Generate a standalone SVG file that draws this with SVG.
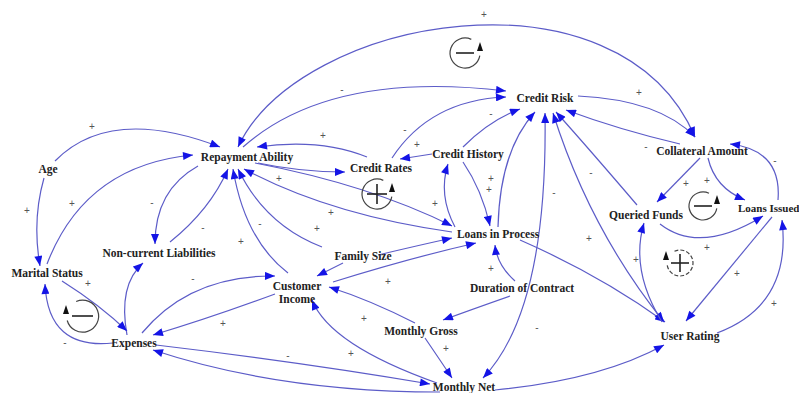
<svg xmlns="http://www.w3.org/2000/svg" width="799" height="393" viewBox="0 0 799 393">
<style>
.n{font-family:"Liberation Serif","Times New Roman",serif;font-weight:bold;font-size:11.5px;fill:#222;text-anchor:middle}
.e{fill:none;stroke:#5c5cc8;stroke-width:1.2}
.p{font-family:"Liberation Sans",Arial,sans-serif;font-size:10px;fill:#555;text-anchor:middle}
.lp{fill:none;stroke:#444;stroke-width:1.2}
.sym{stroke:#222;stroke-width:1.6}
</style>
<defs>
<marker id="a" viewBox="0 0 10 8" refX="10" refY="4" markerWidth="11" markerHeight="8" markerUnits="userSpaceOnUse" orient="auto-start-reverse"><path d="M0,0 L10,4 L0,8 z" fill="#1414e6"/></marker>
</defs>
<rect width="799" height="393" fill="#fff"/>
<g id="connectors">
<path class="e" marker-end="url(#a)" d="M55,161 Q110,105 220,147"/>
<path class="e" marker-end="url(#a)" d="M47,264 Q85,165 193,155"/>
<path class="e" marker-end="url(#a)" d="M44,178 Q32,220 40,266"/>
<path class="e" marker-end="url(#a)" d="M198,166 Q155,190 155,244"/>
<path class="e" marker-end="url(#a)" d="M170,242 Q210,210 228,169"/>
<path class="e" marker-end="url(#a)" d="M288,273 Q245,240 233,169"/>
<path class="e" marker-end="url(#a)" d="M322,247 Q265,225 238,169"/>
<path class="e" marker-end="url(#a)" d="M452,232 Q330,215 244,169"/>
<path class="e" marker-end="url(#a)" d="M255,163 Q370,185 452,226"/>
<path class="e" marker-end="url(#a)" d="M378,255 Q420,245 452,238"/>
<path class="e" marker-end="url(#a)" d="M333,282 Q410,258 476,243"/>
<path class="e" marker-end="url(#a)" d="M258,163 Q300,172 345,172"/>
<path class="e" marker-end="url(#a)" d="M367,157 Q320,138 257,147"/>
<path class="e" marker-end="url(#a)" d="M243,147 Q330,70 506,91"/>
<path class="e" marker-start="url(#a)" marker-end="url(#a)" d="M238,147 C300,15 620,-40 695,137"/>
<path class="e" marker-end="url(#a)" d="M392,158 Q430,100 506,97"/>
<path class="e" marker-end="url(#a)" d="M432,154 L400,159"/>
<path class="e" marker-end="url(#a)" d="M463,147 Q490,120 520,109"/>
<path class="e" marker-end="url(#a)" d="M463,162 Q482,190 490,226"/>
<path class="e" marker-end="url(#a)" d="M455,227 Q438,195 448,164"/>
<path class="e" marker-end="url(#a)" d="M498,227 Q500,150 535,112"/>
<path class="e" marker-end="url(#a)" d="M515,281 Q497,265 495,245"/>
<path class="e" marker-end="url(#a)" d="M510,296 Q470,310 443,320"/>
<path class="e" marker-end="url(#a)" d="M425,338 Q440,360 452,378"/>
<path class="e" marker-start="url(#a)" marker-end="url(#a)" d="M545,113 Q548,310 483,378"/>
<path class="e" marker-end="url(#a)" d="M495,390 Q600,380 664,345"/>
<path class="e" marker-end="url(#a)" d="M520,240 Q600,275 665,322"/>
<path class="e" marker-start="url(#a)" marker-end="url(#a)" d="M553,113 Q590,230 664,322"/>
<path class="e" marker-end="url(#a)" d="M662,322 Q630,270 644,223"/>
<path class="e" marker-end="url(#a)" d="M637,205 Q590,150 556,112"/>
<path class="e" marker-end="url(#a)" d="M680,144 Q620,130 566,110"/>
<path class="e" marker-end="url(#a)" d="M578,96 Q660,100 695,137"/>
<path class="e" marker-end="url(#a)" d="M700,158 L657,202"/>
<path class="e" marker-end="url(#a)" d="M708,158 Q715,188 745,200"/>
<path class="e" marker-end="url(#a)" d="M778,200 Q782,150 730,144"/>
<path class="e" marker-end="url(#a)" d="M660,224 Q700,255 763,216"/>
<path class="e" marker-end="url(#a)" d="M772,217 Q720,280 686,321"/>
<path class="e" marker-end="url(#a)" d="M717,333 Q792,305 782,220"/>
<path class="e" marker-end="url(#a)" d="M415,323 Q370,300 329,287"/>
<path class="e" marker-end="url(#a)" d="M437,383 Q330,345 312,300"/>
<path class="e" marker-end="url(#a)" d="M343,263 L317,276"/>
<path class="e" marker-end="url(#a)" d="M142,333 Q190,275 275,276"/>
<path class="e" marker-end="url(#a)" d="M275,294 Q210,318 153,335"/>
<path class="e" marker-end="url(#a)" d="M127,335 Q118,285 143,263"/>
<path class="e" marker-end="url(#a)" d="M62,281 Q100,305 127,331"/>
<path class="e" marker-end="url(#a)" d="M113,343 Q48,350 45,284"/>
<path class="e" marker-end="url(#a)" d="M156,345 Q300,362 430,384"/>
<path class="e" marker-end="url(#a)" d="M440,392 Q280,392 153,350"/>
</g>
<g id="polarity">
<text class="p" x="484" y="18">+</text>
<text class="p" x="92" y="130">+</text>
<text class="p" x="72" y="207">+</text>
<text class="p" x="27" y="214">+</text>
<text class="p" x="152" y="206">-</text>
<text class="p" x="203" y="231">-</text>
<text class="p" x="260" y="227">-</text>
<text class="p" x="241" y="245">+</text>
<text class="p" x="317" y="232">+</text>
<text class="p" x="331" y="216">+</text>
<text class="p" x="279" y="182">+</text>
<text class="p" x="323" y="139">+</text>
<text class="p" x="342" y="93">-</text>
<text class="p" x="405" y="133">-</text>
<text class="p" x="417" y="148">+</text>
<text class="p" x="491" y="117">-</text>
<text class="p" x="491" y="182">+</text>
<text class="p" x="489" y="193">+</text>
<text class="p" x="435" y="207">+</text>
<text class="p" x="491" y="272">+</text>
<text class="p" x="388" y="285">+</text>
<text class="p" x="446" y="352">+</text>
<text class="p" x="537" y="331">-</text>
<text class="p" x="554" y="196">-</text>
<text class="p" x="589" y="242">+</text>
<text class="p" x="591" y="176">-</text>
<text class="p" x="636" y="263">+</text>
<text class="p" x="639" y="96">+</text>
<text class="p" x="646" y="150">-</text>
<text class="p" x="686" y="187">+</text>
<text class="p" x="707" y="184">+</text>
<text class="p" x="775" y="164">-</text>
<text class="p" x="707" y="251">+</text>
<text class="p" x="737" y="277">+</text>
<text class="p" x="774" y="307">+</text>
<text class="p" x="364" y="322">+</text>
<text class="p" x="351" y="357">+</text>
<text class="p" x="288" y="359">-</text>
<text class="p" x="193" y="282">-</text>
<text class="p" x="223" y="327">+</text>
<text class="p" x="88" y="287">+</text>
<text class="p" x="65" y="346">-</text>
</g>
<g id="loops">
<g id="loop1"><path class="lp" d="M471.3,39.4 A15,15 0 1 0 479.8,55.6"/><line class="sym" x1="456" y1="53" x2="474" y2="53"/><path d="M480,42 L477,51 L483,51 z" fill="#111"/></g>
<g id="loop2"><path class="lp" d="M383.3,180.4 A15,15 0 1 0 391.8,196.6"/><line class="sym" x1="367" y1="194" x2="387" y2="194"/><line class="sym" x1="377" y1="184" x2="377" y2="204"/><path d="M392,183 L389,192 L395,192 z" fill="#111"/></g>
<g id="loop3"><path class="lp" d="M709,193.3 A14,14 0 1 0 716.8,208.4"/><line class="sym" x1="694" y1="206" x2="712" y2="206"/><path d="M717,195 L714,204 L720,204 z" fill="#111"/></g>
<g id="loop4"><path class="lp" stroke-dasharray="4,2" d="M674.5,251.2 A13,13 0 1 1 667.2,265.3"/><line class="sym" x1="671" y1="263" x2="689" y2="263"/><line class="sym" x1="680" y1="254" x2="680" y2="272"/><path d="M666,251 L663,260 L669,260 z" fill="#111"/></g>
<g id="loop5"><path class="lp" d="M76.2,301.5 A16,16 0 1 1 67.2,320.5"/><line class="sym" x1="72" y1="316" x2="93" y2="316"/><path d="M66,305 L63,314 L69,314 z" fill="#111"/></g>
</g>
<g id="nodes">
<g id="age"><text class="n" x="48" y="173">Age</text></g>
<g id="repayment-ability"><text class="n" x="247" y="161">Repayment Ability</text></g>
<g id="credit-rates"><text class="n" x="381" y="172">Credit Rates</text></g>
<g id="credit-risk"><text class="n" x="545" y="102">Credit Risk</text></g>
<g id="credit-history"><text class="n" x="468" y="158">Credit History</text></g>
<g id="collateral-amount"><text class="n" x="702" y="155">Collateral Amount</text></g>
<g id="queried-funds"><text class="n" x="646" y="219">Queried Funds</text></g>
<g id="loans-issued"><text class="n" x="738" y="212" style="text-anchor:start;font-size:11px">Loans Issued</text></g>
<g id="loans-in-process"><text class="n" x="498" y="238">Loans in Process</text></g>
<g id="family-size"><text class="n" x="363" y="260">Family Size</text></g>
<g id="non-current-liabilities"><text class="n" x="159" y="257">Non-current Liabilities</text></g>
<g id="marital-status"><text class="n" x="47" y="277">Marital Status</text></g>
<g id="customer-income"><text class="n" x="297" y="290">Customer</text><text class="n" x="297" y="303">Income</text></g>
<g id="expenses"><text class="n" x="134" y="347">Expenses</text></g>
<g id="duration-of-contract"><text class="n" x="522" y="292">Duration of Contract</text></g>
<g id="monthly-gross"><text class="n" x="421" y="335">Monthly Gross</text></g>
<g id="monthly-net"><text class="n" x="464" y="391">Monthly Net</text></g>
<g id="user-rating"><text class="n" x="690" y="340">User Rating</text></g>
</g>
</svg>
